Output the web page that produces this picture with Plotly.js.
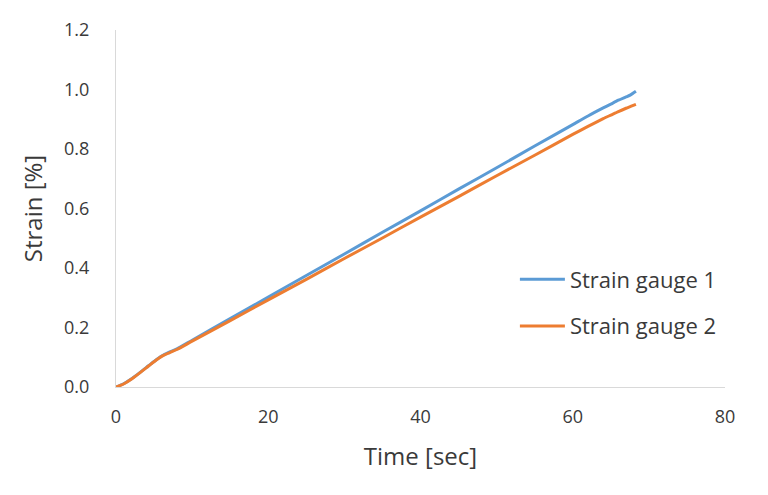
<!DOCTYPE html>
<html>
<head>
<meta charset="utf-8">
<script src="https://cdn.plot.ly/plotly-3.0.1.min.js"></script>
<style>html,body{margin:0;padding:0;background:#fff;}#chart{width:768px;height:495px;}</style>
</head>
<body>
<div id="chart"></div>
<script>
const timeSec = [0, 1, 2, 3, 4, 5, 6, 7, 8, 10, 15, 20, 25, 30, 35, 40, 45, 50, 55, 60, 62, 64, 65, 66, 67, 67.6, 68.3];
const gauge1 = [0, 0.011, 0.027, 0.046, 0.066, 0.086, 0.104, 0.117, 0.128, 0.157, 0.230, 0.302, 0.375, 0.447, 0.520, 0.592, 0.665, 0.737, 0.810, 0.882, 0.911, 0.938, 0.951, 0.964, 0.975, 0.982, 0.994];
const gauge2 = [0, 0.010, 0.026, 0.045, 0.065, 0.085, 0.103, 0.115, 0.126, 0.154, 0.223, 0.293, 0.362, 0.432, 0.501, 0.571, 0.640, 0.710, 0.779, 0.849, 0.876, 0.902, 0.914, 0.926, 0.937, 0.943, 0.950];
const seriesNames = ["Strain gauge 1", "Strain gauge 2"];
const xTicks = [0, 20, 40, 60, 80];
const yTicks = [0, 0.2, 0.4, 0.6, 0.8, 1.0, 1.2];

const font = "Open Sans, Noto Sans, DejaVu Sans, sans-serif";
const traces = [
  {x: timeSec, y: gauge1, name: seriesNames[0], mode: "lines", legendgroup: "g1",
   line: {color: "#5B9BD5", width: 3, shape: "spline", smoothing: 0.6}},
  {x: timeSec, y: gauge2, name: seriesNames[1], mode: "lines", legendgroup: "g2",
   line: {color: "#ED7D31", width: 3, shape: "spline", smoothing: 0.6}}
];
const layout = {
  width: 768, height: 495,
  margin: {l: 116, r: 43, t: 30, b: 108},
  paper_bgcolor: "#fff", plot_bgcolor: "#fff",
  font: {family: font, color: "#3a3a3a"},
  xaxis: {
    range: [0, 80], tickvals: xTicks, ticktext: xTicks.map(String),
    showgrid: false, zeroline: false, showline: true, linecolor: "#d9d9d9", linewidth: 1,
    ticks: "outside", ticklen: 13, tickcolor: "rgba(0,0,0,0)",
    tickfont: {size: 18, color: "#3a3a3a"},
    title: {text: "Time [sec]", font: {size: 24, color: "#3a3a3a"}, standoff: 21}
  },
  yaxis: {
    range: [0, 1.2], tickvals: yTicks, ticktext: yTicks.map(v => v.toFixed(1)),
    showgrid: false, zeroline: false, showline: true, linecolor: "#d9d9d9", linewidth: 1,
    ticks: "outside", ticklen: 22, tickcolor: "rgba(0,0,0,0)",
    tickfont: {size: 18, color: "#3a3a3a"},
    title: {text: "Strain [%]", font: {size: 24, color: "#3a3a3a"}, standoff: 14}
  },
  showlegend: true,
  legend: {x: 0.655, y: 0.36, xanchor: "left", yanchor: "top",
    font: {size: 22, color: "#3a3a3a"}, traceorder: "grouped", tracegroupgap: 15,
    itemwidth: 45, bgcolor: "rgba(0,0,0,0)"}
};
Plotly.newPlot("chart", traces, layout, {displayModeBar: false, staticPlot: true});
</script>
</body>
</html>
